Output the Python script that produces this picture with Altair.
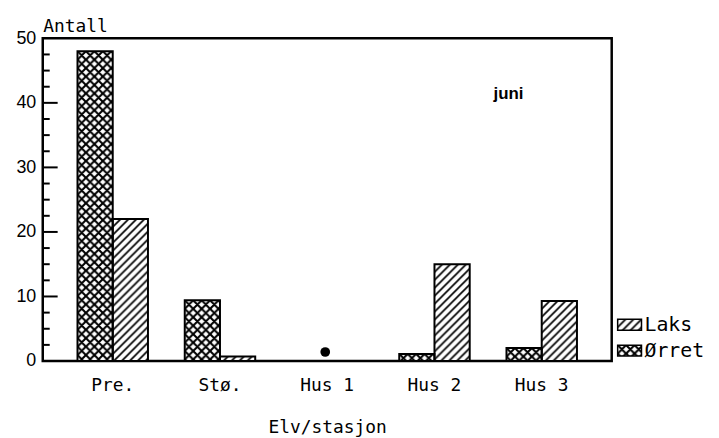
import base64
import altair as alt
import pandas as pd

# ---- data ----
stations = ["Pre.", "Stø.", "Hus 1", "Hus 2", "Hus 3"]
orret = [48, 9.4, 0, 1.1, 2.0]
laks = [22, 0.7, 0, 15, 9.3]
species_order = ["Ørret", "Laks"]
legend_order = ["Laks", "Ørret"]
y_labels = [0, 10, 20, 30, 40, 50]
y_major = [10, 20, 30, 40]
y_minor = [2.5, 5, 7.5, 12.5, 15, 17.5, 22.5, 25, 27.5, 32.5, 35, 37.5, 42.5, 45, 47.5]
marker_station = ["Hus 1"]
marker_level = [1.4]
note_text = "juni"

rows = []
for s, o, l in zip(stations, orret, laks):
    rows.append({"station": s, "species": "Ørret", "count": o})
    rows.append({"station": s, "species": "Laks", "count": l})
df = pd.DataFrame(rows)
df = df[df["count"] > 0]

MONO = "DejaVu Sans Mono"
SANS = "Liberation Sans"
W, H = 573, 325


def hatch_url(paths, sw, p):
    svg = (
        "<svg xmlns='http://www.w3.org/2000/svg' width='100%' height='100%'>"
        f"<defs><pattern id='h' width='{p}' height='{p}' patternUnits='userSpaceOnUse'>"
        f"<path d='{paths}' stroke='black' stroke-width='{sw}' fill='none'/>"
        "</pattern></defs>"
        "<rect width='100%' height='100%' fill='white'/>"
        "<rect width='100%' height='100%' fill='url(#h)'/>"
        "</svg>"
    )
    return "data:image/svg+xml;base64," + base64.b64encode(svg.encode()).decode()


def diag_path(p):
    return f"M-2,2 L2,-2 M0,{p} L{p},0 M{p-2},{p+2} L{p+2},{p-2}"


def anti_path(p):
    return f"M-2,{p-2} L2,{p+2} M0,0 L{p},{p} M{p-2},-2 L{p+2},2"


url_laks = hatch_url(diag_path(8), 1.7, 8)
url_orret = hatch_url(diag_path(8.5) + " " + anti_path(8.5), 2.1, 8.5)

x_scale = alt.Scale(domain=stations, paddingInner=0.343, paddingOuter=0.324)
y_scale = alt.Scale(domain=[0, 50], nice=False)
xoff_scale = alt.Scale(domain=species_order, paddingInner=0, paddingOuter=0)

x_axis = alt.Axis(
    title="Elv/stasjon", labelAngle=0, ticks=False, tickSize=0, domain=False,
    labelFont=MONO, labelFontSize=18, labelColor="black", labelPadding=16,
    titleFont=MONO, titleFontSize=18, titleFontWeight="normal", titleColor="black",
    titleBaseline="alphabetic", titleY=72,
)
y_axis = alt.Axis(
    title="Antall", values=y_labels, ticks=False, tickSize=0, domain=False, grid=False,
    labelFont=SANS, labelFontSize=18, labelColor="black", labelPadding=7,
    titleFont=MONO, titleFontSize=18, titleFontWeight="normal", titleColor="black",
    titleAngle=0, titleX=0, titleY=-7, titleAlign="left", titleBaseline="alphabetic",
)

base = alt.Chart(df).encode(
    x=alt.X("station:N", scale=x_scale, sort=stations, axis=x_axis),
    xOffset=alt.XOffset("species:N", scale=xoff_scale, sort=species_order),
    y=alt.Y("count:Q", scale=y_scale, axis=y_axis),
    y2=alt.datum(0),
)

img_laks = base.transform_filter(alt.datum.species == "Laks").mark_image(aspect=False).encode(
    url=alt.value(url_laks))
img_orret = base.transform_filter(alt.datum.species == "Ørret").mark_image(aspect=False).encode(
    url=alt.value(url_orret))
outline = base.mark_bar(fillOpacity=0, stroke="black", strokeWidth=2)

major = alt.Chart(pd.DataFrame({"v": y_major})).mark_rule(color="black", strokeWidth=2).encode(
    y=alt.Y("v:Q", scale=y_scale), x=alt.value(0), x2=alt.value(15))
minor = alt.Chart(pd.DataFrame({"v": y_minor})).mark_rule(color="black", strokeWidth=2).encode(
    y=alt.Y("v:Q", scale=y_scale), x=alt.value(0), x2=alt.value(7))

marker = alt.Chart(pd.DataFrame({"station": marker_station, "level": marker_level})).mark_point(
    shape="circle", filled=True, size=95, color="black", opacity=1, xOffset=-2).encode(
    x=alt.X("station:N", scale=x_scale, sort=stations), y=alt.Y("level:Q", scale=y_scale))

note = alt.Chart(pd.DataFrame({"t": [note_text]})).mark_text(
    font=SANS, fontSize=17, fontWeight="bold", color="black", align="left", baseline="alphabetic"
).encode(text="t:N", x=alt.value(454), y=alt.value(61))

# legend (hatched swatches + labels)
leg_laks_img = alt.Chart(pd.DataFrame({"s": [legend_order[0]]})).mark_image(aspect=False).encode(
    url=alt.value(url_laks), x=alt.value(579), x2=alt.value(603), y=alt.value(283), y2=alt.value(294))
leg_orret_img = alt.Chart(pd.DataFrame({"s": [legend_order[1]]})).mark_image(aspect=False).encode(
    url=alt.value(url_orret), x=alt.value(579), x2=alt.value(603), y=alt.value(309), y2=alt.value(320))
leg_laks_box = alt.Chart(pd.DataFrame({"s": [legend_order[0]]})).mark_rect(
    fillOpacity=0, stroke="black", strokeWidth=1.5).encode(
    x=alt.value(579), x2=alt.value(603), y=alt.value(283), y2=alt.value(294))
leg_orret_box = alt.Chart(pd.DataFrame({"s": [legend_order[1]]})).mark_rect(
    fillOpacity=0, stroke="black", strokeWidth=1.5).encode(
    x=alt.value(579), x2=alt.value(603), y=alt.value(309), y2=alt.value(320))
leg_laks_txt = alt.Chart(pd.DataFrame({"s": [legend_order[0]]})).mark_text(
    font=MONO, fontSize=20, color="black", align="left", baseline="middle").encode(
    text="s:N", x=alt.value(606), y=alt.value(289))
leg_orret_txt = alt.Chart(pd.DataFrame({"s": [legend_order[1]]})).mark_text(
    font=MONO, fontSize=20, color="black", align="left", baseline="middle").encode(
    text="s:N", x=alt.value(606), y=alt.value(315))

chart = alt.layer(
    img_orret, img_laks, outline, major, minor, marker, note,
    leg_laks_img, leg_orret_img, leg_laks_box, leg_orret_box, leg_laks_txt, leg_orret_txt,
).properties(
    width=W, height=H,
    autosize=alt.AutoSizeParams(type="none"),
    padding={"left": 35, "top": 29, "right": 100, "bottom": 76},
    background="white",
).configure_view(stroke="black", strokeWidth=2.5)

chart.save("out.html", embed_options={"renderer": "svg", "actions": False})
